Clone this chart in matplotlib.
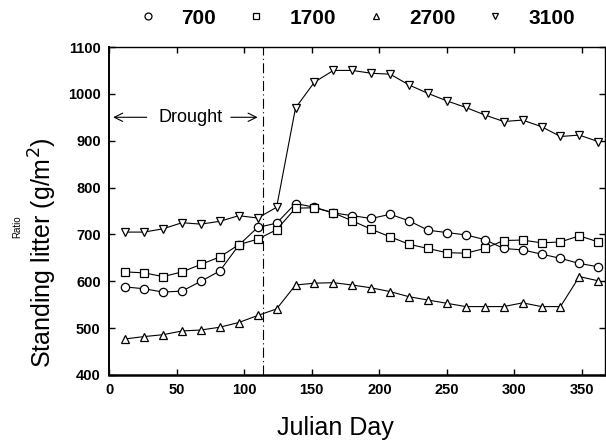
import matplotlib
matplotlib.use("Agg")
import matplotlib.pyplot as plt
from matplotlib.lines import Line2D

plt.rcParams['font.family'] = ['Liberation Sans', 'DejaVu Sans']

days = [12, 26, 40, 54, 68, 82, 96, 110, 124, 138, 152, 166, 180,
        194, 208, 222, 236, 250, 264, 278, 292, 306, 320, 334, 348, 362]
s700 = [588, 584, 577, 579, 600, 622, 677, 715, 724, 766, 758, 746, 740,
        734, 743, 729, 709, 704, 699, 689, 670, 667, 658, 649, 638, 631]
s1700 = [620, 618, 610, 620, 636, 652, 678, 690, 710, 756, 757, 746, 729,
         711, 695, 679, 670, 661, 660, 670, 687, 688, 682, 684, 697, 684]
s2700 = [477, 482, 486, 494, 496, 502, 512, 527, 541, 592, 596, 597, 592,
         586, 578, 567, 560, 553, 546, 546, 546, 554, 546, 546, 610, 601]
s3100 = [705, 705, 712, 725, 722, 728, 740, 735, 758, 970, 1025, 1050, 1050,
         1044, 1042, 1019, 1001, 985, 971, 955, 941, 944, 930, 909, 912, 898]
series_labels = ['700', '1700', '2700', '3100']
series_markers = ['o', 's', '^', 'v']
drought_end = 114

fig = plt.figure(figsize=(6.06, 4.43), dpi=100)
ax = fig.add_axes([0.1799, 0.1535, 0.8185, 0.7404])

for vals, mk in zip([s700, s1700, s2700, s3100], series_markers):
    ax.plot(days, vals, color='black', lw=0.8, marker=mk, ms=6,
            mfc='white', mec='black', mew=0.9)

ax.axvline(drought_end, color='black', lw=0.8, linestyle=(0, (9, 3, 1, 3)))

ax.set_xlim(0, 367)
ax.set_ylim(400, 1100)
ax.set_xticks(range(0, 351, 50))
ax.set_yticks(range(400, 1101, 100))
ax.tick_params(direction='in', top=True, right=True, length=4, width=1,
               labelsize=10.5, pad=6)
for lab in ax.get_xticklabels() + ax.get_yticklabels():
    lab.set_fontweight('bold')
for s in ax.spines.values():
    s.set_linewidth(1.0)
ax.spines['bottom'].set_linewidth(1.8)
ax.spines['left'].set_linewidth(1.4)

ax.set_xlabel('Julian Day', fontsize=18)
ax.xaxis.set_label_coords(0.456, -0.125)
ax.set_ylabel('Standing litter (g/m$^2$)', fontsize=18)
ax.yaxis.set_label_coords(-0.10, 0.372)
fig.text(0.028, 0.488, 'Ratio', rotation=90, fontsize=7, ha='center', va='center')

# Drought annotation
ax.text(60, 950, 'Drought', fontsize=13, ha='center', va='center')
ax.annotate('', xy=(1, 950), xytext=(30, 950),
            arrowprops=dict(arrowstyle='->', lw=0.8, color='black',
                            mutation_scale=15))
ax.annotate('', xy=(112, 950), xytext=(88, 950),
            arrowprops=dict(arrowstyle='->', lw=0.8, color='black',
                            mutation_scale=15))

handles = [Line2D([], [], linestyle='none', marker=mk, ms=5, mfc='white',
                  mec='black', mew=0.9) for mk in series_markers]
fig.legend(handles, series_labels, loc='center', bbox_to_anchor=(0.588, 0.959),
           ncol=4, frameon=False, handlelength=1, handletextpad=1.09,
           columnspacing=1.42, borderpad=0, borderaxespad=0,
           prop={'weight': 'bold', 'size': 15})

fig.savefig('out.png', dpi=100)
